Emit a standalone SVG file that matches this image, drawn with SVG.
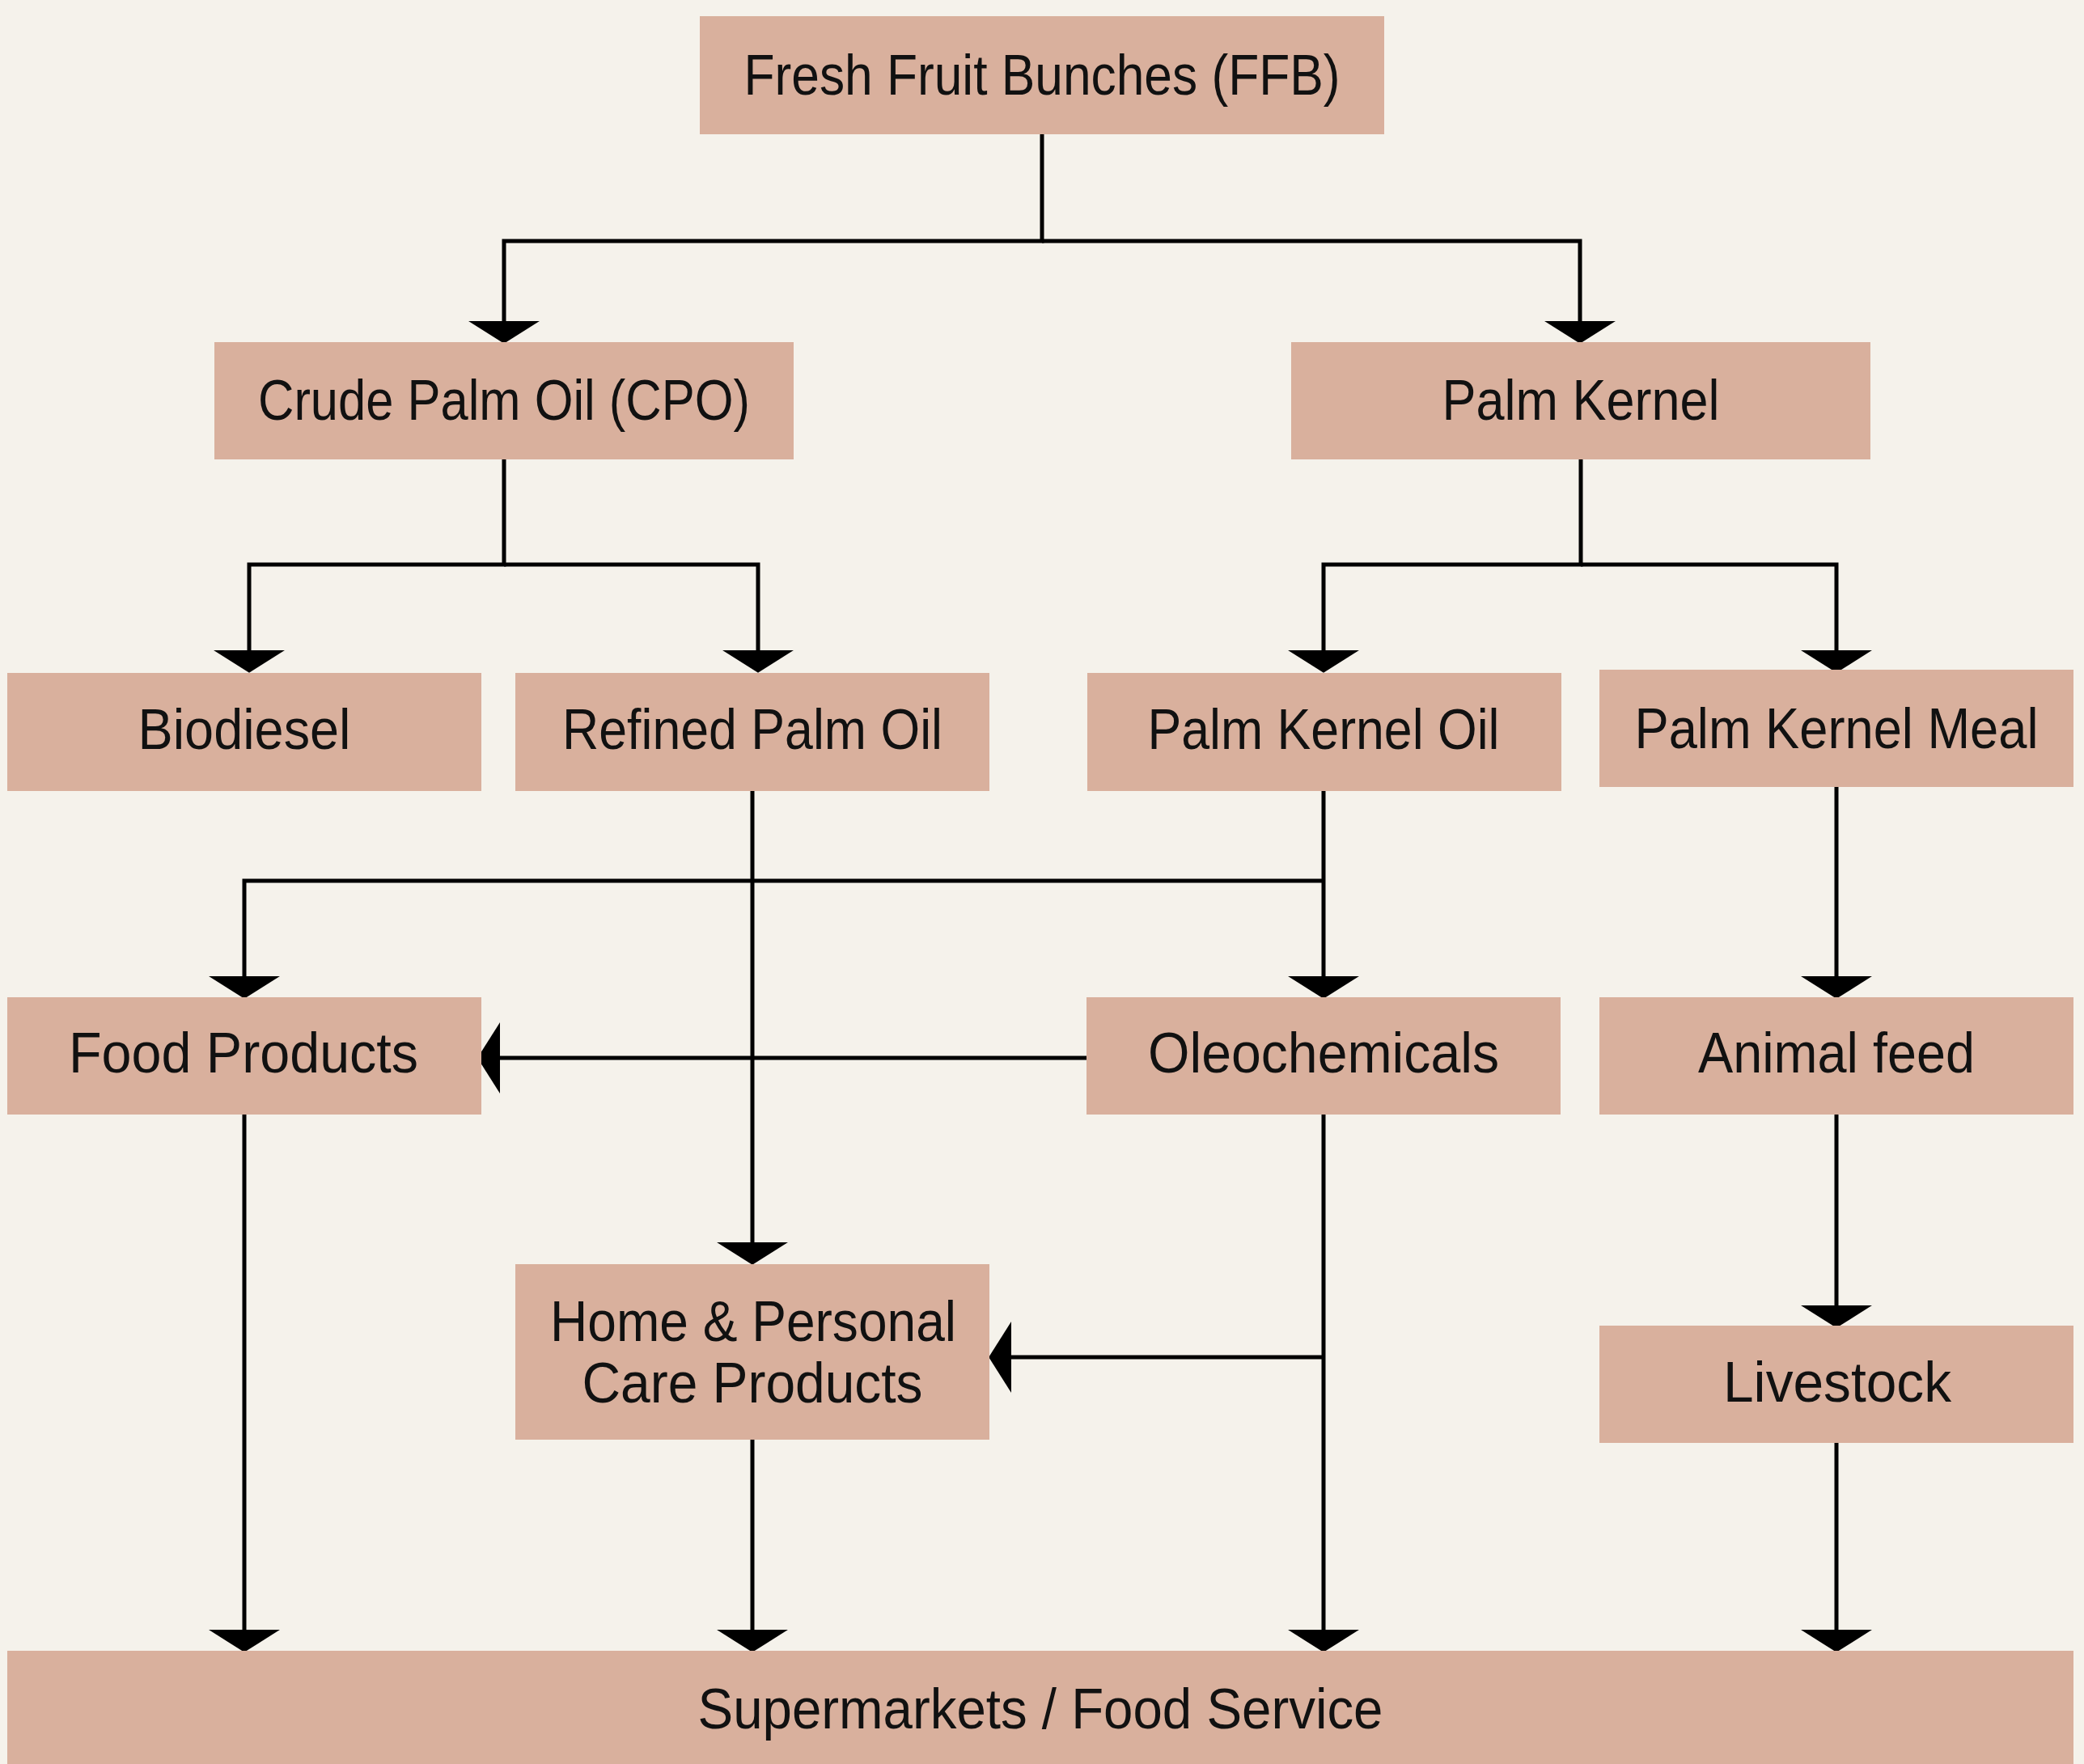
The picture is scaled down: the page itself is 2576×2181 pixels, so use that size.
<svg xmlns="http://www.w3.org/2000/svg" width="2576" height="2181" viewBox="0 0 2576 2181">
<style>
.box{fill:#d9b09d}
.lbl{font-family:"Liberation Sans",Arial,sans-serif;font-size:70px;fill:#111;text-anchor:middle}
.conn{fill:none;stroke:#000;stroke-width:5;marker-end:url(#ah)}
</style>
<defs>
<marker id="ah" markerUnits="userSpaceOnUse" markerWidth="30" markerHeight="90" viewBox="0 -42 28 84" refX="0" refY="0" orient="auto">
<path d="M0,-41 L26,0 L0,41 z" fill="#000"/>
</marker>
</defs>
<rect x="0" y="0" width="2576" height="2181" fill="#f5f2eb"/>
<g id="connectors">
<path class="conn" d="M1288,166 V298 H623 V397"/>
<path class="conn" d="M1288,298 H1953 V397"/>
<path class="conn" d="M623,568 V698 H308 V804"/>
<path class="conn" d="M623,698 H937 V804"/>
<path class="conn" d="M1954,568 V698 H1636 V804"/>
<path class="conn" d="M1954,698 H2270 V804"/>
<path class="conn" d="M1636,978 V1207"/>
<path class="conn" d="M1636,1089 H302 V1207"/>
<path class="conn" d="M930,978 V1536"/>
<path class="conn" d="M2270,973 V1207"/>
<path class="conn" d="M1343,1308 H618"/>
<path class="conn" d="M1636,1378 V2015"/>
<path class="conn" d="M1636,1678 H1250"/>
<path class="conn" d="M302,1378 V2015"/>
<path class="conn" d="M930,1780 V2015"/>
<path class="conn" d="M2270,1378 V1614"/>
<path class="conn" d="M2270,1784 V2015"/>
</g>
<g id="ffb"><rect class="box" x="865" y="20" width="846" height="146"/><text class="lbl" x="1288" y="117" textLength="737" lengthAdjust="spacingAndGlyphs">Fresh Fruit Bunches (FFB)</text></g>
<g id="cpo"><rect class="box" x="265" y="423" width="716" height="145"/><text class="lbl" x="623" y="519" textLength="608" lengthAdjust="spacingAndGlyphs">Crude Palm Oil (CPO)</text></g>
<g id="pk"><rect class="box" x="1596" y="423" width="716" height="145"/><text class="lbl" x="1954" y="519" textLength="343" lengthAdjust="spacingAndGlyphs">Palm Kernel</text></g>
<g id="biodiesel"><rect class="box" x="9" y="832" width="586" height="146"/><text class="lbl" x="302" y="926" textLength="263" lengthAdjust="spacingAndGlyphs">Biodiesel</text></g>
<g id="refined"><rect class="box" x="637" y="832" width="586" height="146"/><text class="lbl" x="930" y="926" textLength="470" lengthAdjust="spacingAndGlyphs">Refined Palm Oil</text></g>
<g id="pko"><rect class="box" x="1344" y="832" width="586" height="146"/><text class="lbl" x="1636" y="926" textLength="435" lengthAdjust="spacingAndGlyphs">Palm Kernel Oil</text></g>
<g id="pkm"><rect class="box" x="1977" y="828" width="586" height="145"/><text class="lbl" x="2270" y="925" textLength="499" lengthAdjust="spacingAndGlyphs">Palm Kernel Meal</text></g>
<g id="food"><rect class="box" x="9" y="1233" width="586" height="145"/><text class="lbl" x="301" y="1326" textLength="432" lengthAdjust="spacingAndGlyphs">Food Products</text></g>
<g id="oleo"><rect class="box" x="1343" y="1233" width="586" height="145"/><text class="lbl" x="1636" y="1326" textLength="434" lengthAdjust="spacingAndGlyphs">Oleochemicals</text></g>
<g id="animal"><rect class="box" x="1977" y="1233" width="586" height="145"/><text class="lbl" x="2270" y="1326" textLength="342" lengthAdjust="spacingAndGlyphs">Animal feed</text></g>
<g id="home"><rect class="box" x="637" y="1563" width="586" height="217"/><text class="lbl" x="931" y="1658" textLength="502" lengthAdjust="spacingAndGlyphs">Home &amp; Personal</text><text class="lbl" x="930" y="1734" textLength="421" lengthAdjust="spacingAndGlyphs">Care Products</text></g>
<g id="livestock"><rect class="box" x="1977" y="1639" width="586" height="145"/><text class="lbl" x="2271" y="1733" textLength="282" lengthAdjust="spacingAndGlyphs">Livestock</text></g>
<g id="super"><rect class="box" x="9" y="2041" width="2554" height="145"/><text class="lbl" x="1286" y="2137" textLength="847" lengthAdjust="spacingAndGlyphs">Supermarkets / Food Service</text></g>
</svg>
